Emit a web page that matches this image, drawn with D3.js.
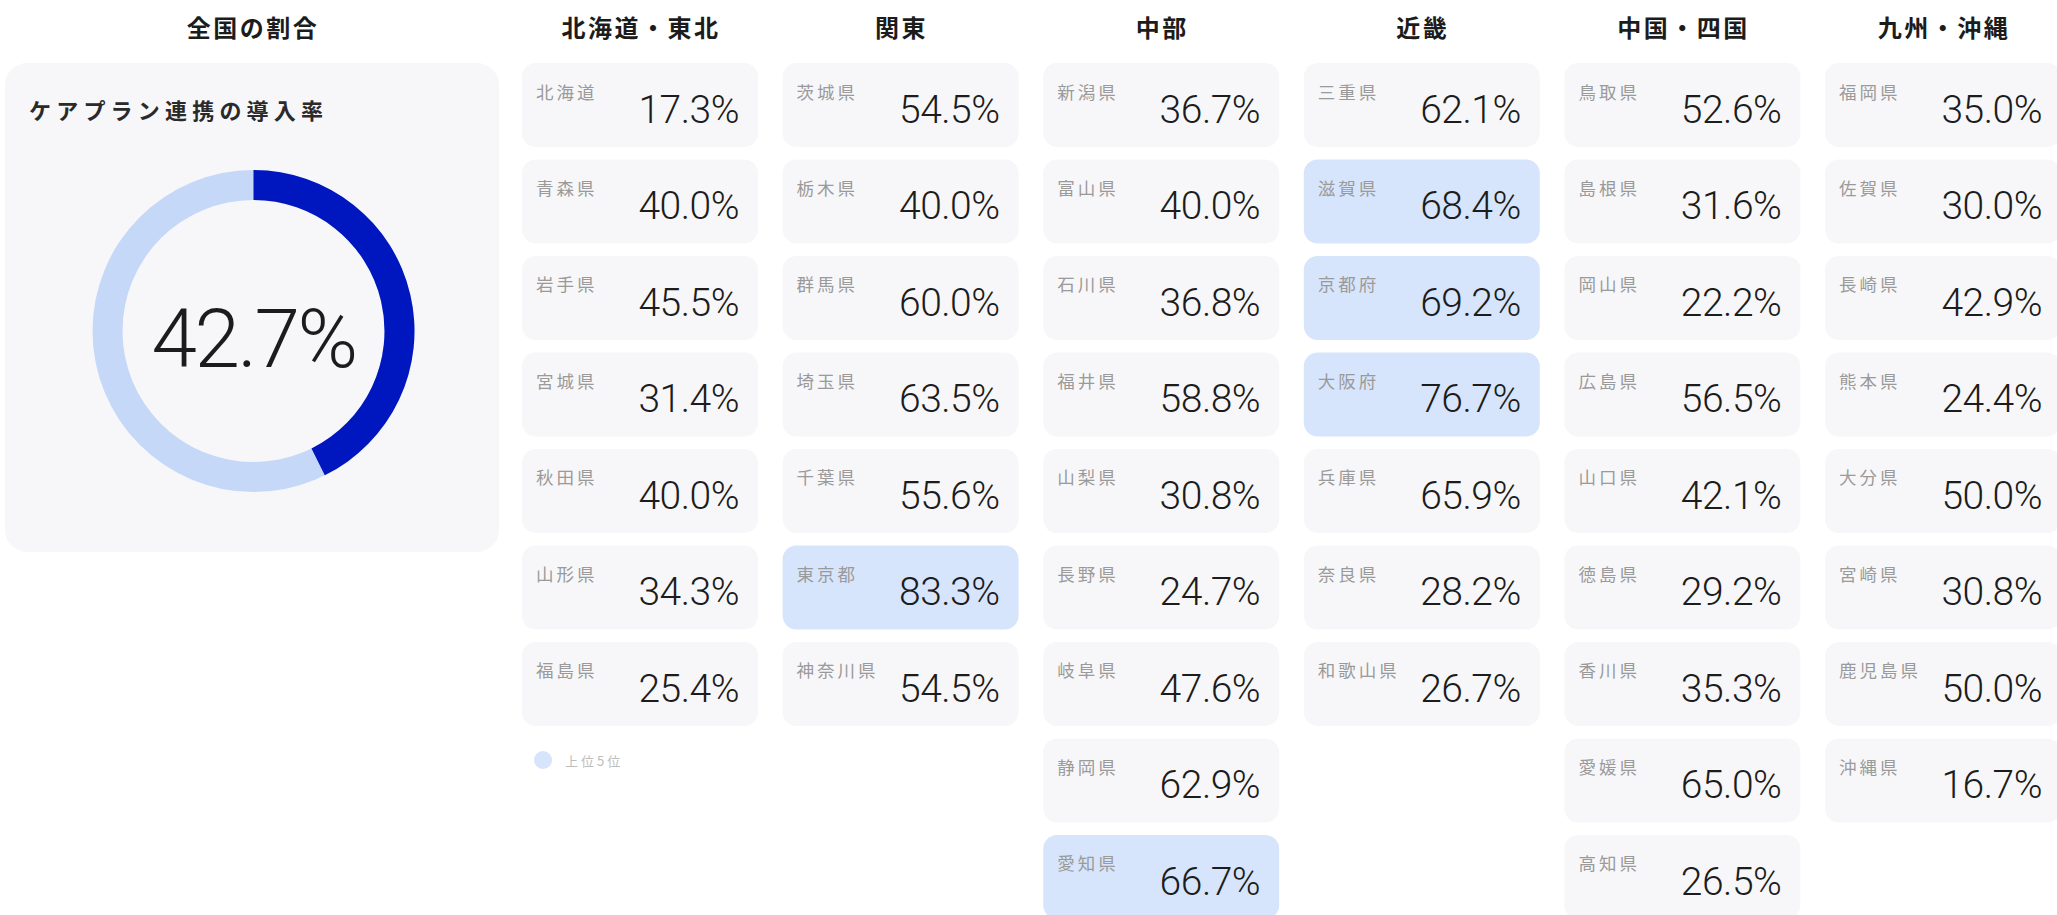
<!DOCTYPE html>
<html lang="ja">
<head>
<meta charset="utf-8">
<script src="https://cdn.jsdelivr.net/npm/d3@7"></script>
<style>
  html, body { margin: 0; padding: 0; background: #fff; }
  svg { display: block; }
  .jp { font-family: "Noto Sans CJK JP", "Noto Sans", sans-serif; }
  .num { font-family: Roboto, "Noto Sans", sans-serif; }
</style>
</head>
<body>
<svg id="chart" width="2057" height="915"></svg>
<script>
// ---- data ----
const nationalTitle = "全国の割合";
const nationalLabel = "ケアプラン連携の導入率";
const nationalRate = 42.7;

const regionNames = ["北海道・東北", "関東", "中部", "近畿", "中国・四国", "九州・沖縄"];

const prefNames = [
    ["北海道", "青森県", "岩手県", "宮城県", "秋田県", "山形県", "福島県"],
    ["茨城県", "栃木県", "群馬県", "埼玉県", "千葉県", "東京都", "神奈川県"],
    ["新潟県", "富山県", "石川県", "福井県", "山梨県", "長野県", "岐阜県", "静岡県", "愛知県"],
    ["三重県", "滋賀県", "京都府", "大阪府", "兵庫県", "奈良県", "和歌山県"],
    ["鳥取県", "島根県", "岡山県", "広島県", "山口県", "徳島県", "香川県", "愛媛県", "高知県"],
    ["福岡県", "佐賀県", "長崎県", "熊本県", "大分県", "宮崎県", "鹿児島県", "沖縄県"]
];

const prefRates = [
    [17.3, 40.0, 45.5, 31.4, 40.0, 34.3, 25.4],
    [54.5, 40.0, 60.0, 63.5, 55.6, 83.3, 54.5],
    [36.7, 40.0, 36.8, 58.8, 30.8, 24.7, 47.6, 62.9, 66.7],
    [62.1, 68.4, 69.2, 76.7, 65.9, 28.2, 26.7],
    [52.6, 31.6, 22.2, 56.5, 42.1, 29.2, 35.3, 65.0, 26.5],
    [35.0, 30.0, 42.9, 24.4, 50.0, 30.8, 50.0, 16.7]
];

const legendLabel = "上位5位";
const topN = 5;

// ---- colours ----
const cardFill = "#f7f7f9";
const topFill = "#d7e5fc";
const ringDark = "#0017bf";
const ringLight = "#c6d8f8";
const textDark = "#1c1c1c";

const svg = d3.select("#chart");
const fmt = d3.format(".1f");

// top 5 threshold
const allRates = prefRates.flat().sort(d3.descending);
const threshold = allRates[topN - 1];

// ------------------------------------------------------------
// national card (left)
// ------------------------------------------------------------
const nat = { x: 5, y: 63, w: 494, h: 489 };

svg.append("text")
    .attr("class", "jp")
    .attr("x", nat.x + nat.w / 2 + 1)
    .attr("y", 26)
    .attr("text-anchor", "middle")
    .attr("dominant-baseline", "central")
    .attr("font-size", 24)
    .attr("font-weight", 700)
    .attr("letter-spacing", 2.5)
    .attr("fill", textDark)
    .text(nationalTitle);

svg.append("rect")
    .attr("x", nat.x).attr("y", nat.y)
    .attr("width", nat.w).attr("height", nat.h)
    .attr("rx", 22)
    .attr("fill", cardFill);

svg.append("text")
    .attr("class", "jp")
    .attr("x", nat.x + 24)
    .attr("y", 109)
    .attr("dominant-baseline", "central")
    .attr("font-size", 22)
    .attr("font-weight", 700)
    .attr("letter-spacing", 5.2)
    .attr("fill", "#2a2a2a")
    .text(nationalLabel);

const angle = d3.scaleLinear().domain([0, 100]).range([0, 2 * Math.PI]);
const arc = d3.arc().innerRadius(131).outerRadius(161);

const donut = svg.append("g")
    .attr("transform", `translate(${nat.x + nat.w / 2 + 1.5}, 331)`);

donut.append("path")
    .attr("d", arc({ startAngle: 0, endAngle: angle(100) }))
    .attr("fill", ringLight);

donut.append("path")
    .attr("d", arc({ startAngle: 0, endAngle: angle(nationalRate) }))
    .attr("fill", ringDark);

donut.append("text")
    .attr("class", "num")
    .attr("x", 0)
    .attr("y", 36)
    .attr("text-anchor", "middle")
    .attr("font-size", 82)
    .attr("font-weight", 300)
    .attr("letter-spacing", -2.5)
    .attr("fill", textDark)
    .text(fmt(nationalRate) + "%");

// ------------------------------------------------------------
// regional grid
// ------------------------------------------------------------
const x = d3.scaleBand()
    .domain(regionNames)
    .range([522, 2061])
    .paddingInner(0.0944)
    .paddingOuter(0);

const maxRows = d3.max(prefNames, d => d.length);
const y = d3.scaleBand()
    .domain(d3.range(maxRows))
    .range([63, 63 + (maxRows - 1) * 96.5 + 84])
    .paddingInner(0.1295)
    .paddingOuter(0);

const cardW = x.bandwidth();
const cardH = y.bandwidth();

const cols = svg.append("g").selectAll("g.region")
    .data(regionNames.map((r, i) => ({
        region: r,
        prefs: prefNames[i].map((n, j) => ({ name: n, rate: prefRates[i][j], row: j }))
    })))
    .join("g")
    .attr("class", "region")
    .attr("transform", d => `translate(${x(d.region)}, 0)`);

cols.append("text")
    .attr("class", "jp")
    .attr("x", cardW / 2 + 1)
    .attr("y", 26)
    .attr("text-anchor", "middle")
    .attr("dominant-baseline", "central")
    .attr("font-size", 24)
    .attr("font-weight", 700)
    .attr("letter-spacing", 2.5)
    .attr("fill", textDark)
    .text(d => d.region);

const cells = cols.selectAll("g.pref")
    .data(d => d.prefs)
    .join("g")
    .attr("class", "pref")
    .attr("transform", d => `translate(0, ${y(d.row)})`);

cells.append("rect")
    .attr("width", cardW)
    .attr("height", cardH)
    .attr("rx", 14)
    .attr("fill", d => d.rate >= threshold ? topFill : cardFill);

cells.append("text")
    .attr("class", "jp")
    .attr("x", 14)
    .attr("y", 28)
    .attr("dominant-baseline", "central")
    .attr("font-size", 17.5)
    .attr("letter-spacing", 3)
    .attr("fill", "#9a9a9a")
    .text(d => d.name);

cells.append("text")
    .attr("class", "num")
    .attr("x", cardW - 19)
    .attr("y", 60)
    .attr("text-anchor", "end")
    .attr("font-size", 39)
    .attr("font-weight", 300)
    .attr("letter-spacing", -0.5)
    .attr("fill", textDark)
    .text(d => fmt(d.rate) + "%");

// legend
const legend = svg.append("g")
    .attr("transform", `translate(${x(regionNames[0]) + 21}, ${y(maxRows - 3) + cardH + 34})`);

legend.append("circle")
    .attr("r", 9)
    .attr("fill", topFill);

legend.append("text")
    .attr("class", "jp")
    .attr("x", 22)
    .attr("dominant-baseline", "central")
    .attr("font-size", 13)
    .attr("letter-spacing", 3)
    .attr("fill", "#bdbdbd")
    .text(legendLabel);
</script>
</body>
</html>
